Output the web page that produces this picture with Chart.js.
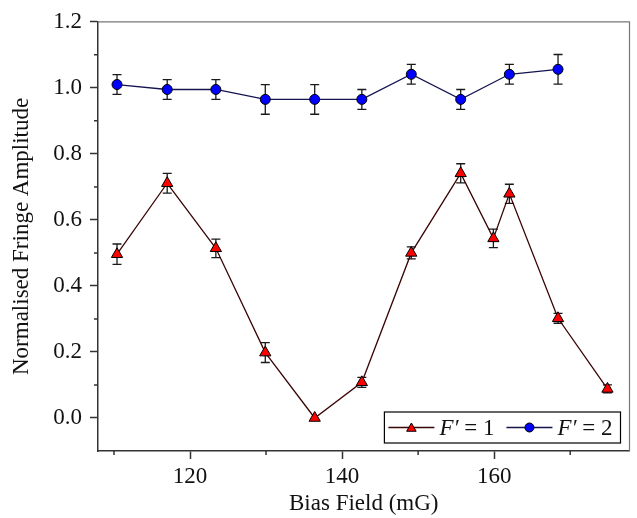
<!DOCTYPE html>
<html>
<head>
<meta charset="utf-8">
<title>Normalised Fringe Amplitude vs Bias Field</title>
<script src="https://cdn.jsdelivr.net/npm/chart.js@4.4.1/dist/chart.umd.min.js"></script>
<style>
  html, body { margin: 0; padding: 0; background: #fff; }
  #wrap { width: 637px; height: 518px; }
</style>
</head>
<body>
<div id="wrap"><canvas id="fringeChart"></canvas></div>
<script>
// F' = 1 (red triangles)
const biasField1 = [110.4, 117.0, 123.4, 129.9, 136.4, 142.6, 149.1, 155.6, 159.9, 162.0, 168.4, 174.9];
const amp1 = [0.496, 0.711, 0.514, 0.198, 0.0, 0.108, 0.500, 0.741, 0.544, 0.679, 0.302, 0.088];
const err1 = [0.031, 0.030, 0.028, 0.030, 0.0, 0.015, 0.018, 0.029, 0.028, 0.029, 0.015, 0.012];

// F' = 2 (blue circles)
const biasField2 = [110.4, 117.0, 123.4, 129.9, 136.4, 142.6, 149.1, 155.6, 162.0, 168.4];
const amp2 = [1.010, 0.995, 0.995, 0.965, 0.965, 0.965, 1.041, 0.965, 1.041, 1.056];
const err2 = [0.030, 0.030, 0.030, 0.045, 0.045, 0.030, 0.030, 0.030, 0.030, 0.045];

const seriesNames = ["F′ = 1", "F′ = 2"];
const xTicks = [120, 140, 160];
const xMinorTicks = [110, 130, 150, 170];
const yTicks = [0.0, 0.2, 0.4, 0.6, 0.8, 1.0, 1.2];
const yMinorTicks = [0.1, 0.3, 0.5, 0.7, 0.9, 1.1];

const serif = "'Liberation Serif', 'Times New Roman', serif";
const axisColor = '#333';

function toPoints(xs, ys) {
    return xs.map((x, i) => ({ x: x, y: ys[i] }));
}

// error bars, drawn under the markers
const errorBars = {
    id: 'errorBars',
    beforeDatasetsDraw(chart) {
        const { ctx, scales: { x, y } } = chart;
        ctx.save();
        ctx.strokeStyle = '#1a1a1a';
        ctx.lineWidth = 1.3;
        chart.data.datasets.forEach(ds => {
            ds.data.forEach((p, i) => {
                const e = ds.errors[i];
                if (!e) return;
                const px = x.getPixelForValue(p.x);
                const top = y.getPixelForValue(p.y + e);
                const bot = y.getPixelForValue(p.y - e);
                ctx.beginPath();
                ctx.moveTo(px, top); ctx.lineTo(px, bot);
                ctx.moveTo(px - 4.5, top); ctx.lineTo(px + 4.5, top);
                ctx.moveTo(px - 4.5, bot); ctx.lineTo(px + 4.5, bot);
                ctx.stroke();
            });
        });
        ctx.restore();
    }
};

// top/right frame and minor ticks
const frame = {
    id: 'frame',
    afterDraw(chart) {
        const { ctx, chartArea: a, scales: { x, y } } = chart;
        ctx.save();
        ctx.strokeStyle = '#777';
        ctx.lineWidth = 1.2;
        ctx.beginPath();
        ctx.moveTo(a.left, a.top); ctx.lineTo(a.right, a.top); ctx.lineTo(a.right, a.bottom);
        ctx.stroke();

        ctx.strokeStyle = axisColor;
        ctx.lineWidth = 1.5;
        ctx.beginPath();
        xMinorTicks.forEach(v => {
            const px = x.getPixelForValue(v);
            ctx.moveTo(px, a.bottom); ctx.lineTo(px, a.bottom + 4);
        });
        yMinorTicks.forEach(v => {
            const py = y.getPixelForValue(v);
            ctx.moveTo(a.left, py); ctx.lineTo(a.left - 4, py);
        });
        ctx.stroke();
        ctx.restore();
    }
};

// boxed legend in the lower right corner
const boxLegend = {
    id: 'boxLegend',
    afterDraw(chart) {
        const { ctx, chartArea: a } = chart;
        const size = 23;
        const italic = 'italic ' + size + 'px ' + serif;
        const roman = size + 'px ' + serif;
        ctx.save();

        const entries = chart.data.datasets.map(ds => {
            const head = ds.label.slice(0, 2);
            const tail = ds.label.slice(2);
            ctx.font = italic;
            const wHead = ctx.measureText(head).width;
            ctx.font = roman;
            const wTail = ctx.measureText(tail).width;
            return { ds, head, tail, wHead, w: wHead + wTail };
        });

        const lineLen = 46;
        let boxW = 4;
        entries.forEach((en, i) => { boxW += lineLen + 5 + en.w + (i < entries.length - 1 ? 12 : 8); });
        const boxH = 31;
        const bx = a.right - 9 - boxW;
        const by = a.bottom - 8 - boxH;
        const my = by + boxH / 2;

        ctx.fillStyle = '#fff';
        ctx.fillRect(bx, by, boxW, boxH);
        ctx.strokeStyle = '#000';
        ctx.lineWidth = 1.2;
        ctx.strokeRect(bx, by, boxW, boxH);

        let cx = bx + 4;
        entries.forEach(en => {
            const ds = en.ds;
            ctx.strokeStyle = ds.borderColor;
            ctx.lineWidth = 1.3;
            ctx.beginPath();
            ctx.moveTo(cx, my); ctx.lineTo(cx + lineLen, my);
            ctx.stroke();
            ctx.fillStyle = ds.pointBackgroundColor;
            ctx.strokeStyle = '#000';
            ctx.lineWidth = 1;
            Chart.helpers.drawPoint(ctx, {
                pointStyle: ds.pointStyle,
                radius: ds.pointStyle === 'triangle' ? 5.5 : 4.5,
                rotation: 0,
                borderWidth: 1
            }, cx + lineLen / 2, ds.pointStyle === 'triangle' ? my + 1 : my);
            cx += lineLen + 5;

            ctx.fillStyle = '#111';
            ctx.textBaseline = 'alphabetic';
            ctx.textAlign = 'left';
            ctx.font = italic;
            ctx.fillText(en.head, cx, my + 7);
            ctx.font = roman;
            ctx.fillText(en.tail, cx + en.wHead, my + 7);
            cx += en.w + 12;
        });
        ctx.restore();
    }
};

const ctx = document.getElementById('fringeChart').getContext('2d');
new Chart(ctx, {
    type: 'line',
    data: {
        datasets: [
            {
                label: seriesNames[0],
                data: toPoints(biasField1, amp1),
                errors: err1,
                borderColor: '#3a0505',
                borderWidth: 1.3,
                pointStyle: 'triangle',
                pointRadius: 6.5,
                pointHoverRadius: 6.5,
                pointBackgroundColor: '#ff0000',
                pointBorderColor: '#000',
                pointBorderWidth: 1,
                tension: 0,
                fill: false
            },
            {
                label: seriesNames[1],
                data: toPoints(biasField2, amp2),
                errors: err2,
                borderColor: '#141450',
                borderWidth: 1.3,
                pointStyle: 'circle',
                pointRadius: 5,
                pointHoverRadius: 5,
                pointBackgroundColor: '#0000ff',
                pointBorderColor: '#000',
                pointBorderWidth: 1,
                tension: 0,
                fill: false
            }
        ]
    },
    options: {
        responsive: true,
        maintainAspectRatio: false,
        animation: false,
        layout: { padding: { top: 17, right: 2, left: 0, bottom: 0 } },
        plugins: {
            legend: { display: false },
            tooltip: { enabled: false }
        },
        scales: {
            x: {
                type: 'linear',
                min: 107.9,
                max: 177.8,
                afterBuildTicks: s => { s.ticks = xTicks.map(v => ({ value: v })); },
                afterFit: s => { s.height = 67; },
                grid: { drawOnChartArea: false, tickLength: 8, tickColor: axisColor, tickWidth: 1.5 },
                border: { color: axisColor, width: 1.5 },
                ticks: {
                    font: { family: serif, size: 23 },
                    color: '#111',
                    padding: 4,
                    maxRotation: 0,
                    callback: v => String(v)
                },
                title: {
                    display: true,
                    text: 'Bias Field (mG)',
                    font: { family: serif, size: 23 },
                    color: '#111',
                    padding: { top: 0, bottom: 0 }
                }
            },
            y: {
                type: 'linear',
                min: -0.1,
                max: 1.2,
                afterBuildTicks: s => { s.ticks = yTicks.map(v => ({ value: v })); },
                afterFit: s => { s.width = 98; },
                grid: { drawOnChartArea: false, tickLength: 8, tickColor: axisColor, tickWidth: 1.5 },
                border: { color: axisColor, width: 1.5 },
                ticks: {
                    font: { family: serif, size: 23 },
                    color: '#111',
                    padding: 8,
                    callback: v => v.toFixed(1)
                },
                title: {
                    display: true,
                    text: 'Normalised Fringe Amplitude',
                    font: { family: serif, size: 23 },
                    color: '#111',
                    padding: { top: 8, bottom: 0 }
                }
            }
        }
    },
    plugins: [errorBars, frame, boxLegend]
});
</script>
</body>
</html>
